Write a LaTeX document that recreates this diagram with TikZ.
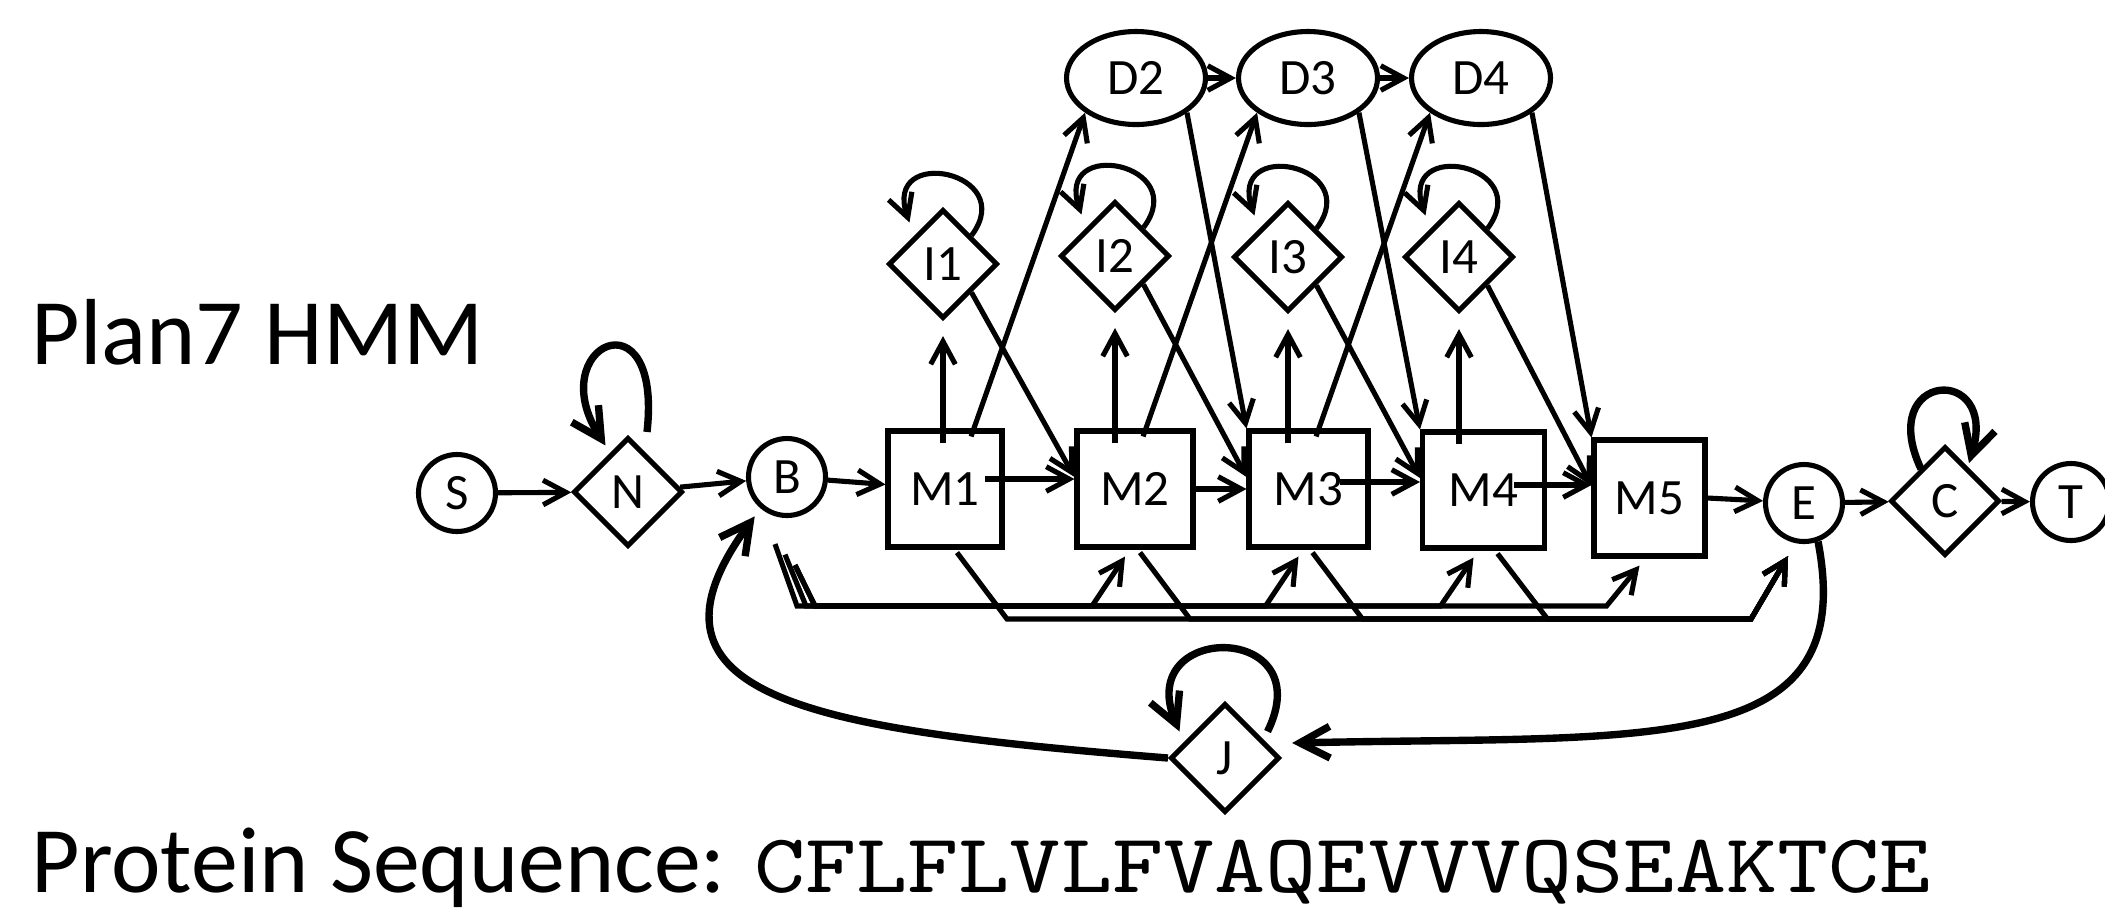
\documentclass[tikz,border=0pt]{standalone}
\usepackage{fontspec}
\setmainfont{Carlito}
\newfontfamily\seqfont{lmmono10-regular.otf}[FakeStretch=1.16]
\usetikzlibrary{
  arrows.meta,
  shapes.geometric,
  calc
}
\newcommand{\lblfont}{\fontsize{14.5pt}{17pt}\selectfont}
\newcommand{\bigfont}{\fontsize{26.7pt}{32pt}\selectfont}

\begin{document}
\begin{tikzpicture}[
  circ/.style={circle, draw, line width=1.45pt, minimum size=0.77cm, inner sep=0pt, font=\lblfont},
  dia/.style={diamond, draw, line width=1.45pt, minimum width=1.09cm, minimum height=1.09cm,
              inner sep=0pt, font=\lblfont},
  mbox/.style={rectangle, draw, line width=1.45pt, minimum width=#1, minimum height=1.16cm,
               inner sep=0pt, font=\lblfont},
  dell/.style={ellipse, draw, line width=1.45pt, minimum width=1.39cm, minimum height=0.93cm,
               inner sep=0pt, font=\lblfont},
  arr/.style={-{Straight Barb[length=6.5pt,width=7pt]}, line width=1.45pt},
  bigarr/.style={-{Straight Barb[length=8.5pt,width=9pt]}, line width=2.1pt},
  caption/.style={anchor=base west, inner sep=0pt, font=\bigfont}
]
  \useasboundingbox (0,0) rectangle (21.05,-9.11);

  \node[caption] (title) at (0.31,-3.64) {Plan7 HMM};
  \node[caption] (seq)   at (0.31,-8.92)
    {Protein Sequence: {\seqfont\fontsize{23.9pt}{28pt}\selectfont CFLFLVLFVAQEVVVQSEAKTCE}};

  % special states
  \node[circ] (S) at (4.57,-4.93) {S};
  \node[dia]  (N) at (6.28,-4.92) {N};
  \node[circ] (B) at (7.87,-4.77) {B};
  \node[circ] (E) at (18.04,-5.03) {E};
  \node[dia]  (C) at (19.45,-5.01) {C};
  \node[circ] (T) at (20.71,-5.02) {T};
  \node[dia]  (J) at (12.25,-7.58) {J};

  % match, insert, delete states
  \node[mbox=1.14cm] (M1) at (9.45,-4.89)   {M1};
  \node[mbox=1.16cm] (M2) at (11.35,-4.89)  {M2};
  \node[mbox=1.19cm] (M3) at (13.085,-4.89) {M3};
  \node[mbox=1.22cm] (M4) at (14.835,-4.90) {M4};
  \node[mbox=1.11cm] (M5) at (16.495,-4.98) {M5};

  \node[dia] (I1) at (9.43,-2.64)  {I1};
  \node[dia] (I2) at (11.15,-2.56) {I2};
  \node[dia] (I3) at (12.88,-2.57) {I3};
  \node[dia] (I4) at (14.59,-2.57) {I4};

  \node[dell] (D2) at (11.36,-0.78) {D2};
  \node[dell] (D3) at (13.08,-0.78) {D3};
  \node[dell] (D4) at (14.81,-0.78) {D4};

  % main line
  \draw[arr] (S) -- (N);
  \draw[arr] (N) -- (B);
  \draw[arr] (B) -- (M1);
  \foreach \a/\b/\s/\dy in {M1/M2/0.2/0.1, M2/M3/0/0, M3/M4/0.31/0.07, M4/M5/0.33/0.05}{
    \draw[arr] ($(\a.east)+(-\s,\dy)$) -- ($(\a.east -| \b.west)+(0,\dy)$);
  }
  \draw[arr] (M5.east) -- (E);
  \draw[arr] (E) -- (C);
  \draw[arr] (C) -- (T);

  % inserts
  \foreach \k/\m in {1/2,2/3,3/4,4/5}{
    \draw[arr, shorten <=-0.15cm, shorten >=0.15cm] (I\k.south |- M\k.north) -- (I\k.south);
    \draw[arr] (I\k.north east) .. controls +(0.48,0.64) and +(-0.27,0.78) .. ($(I\k.north west)+(-0.05,0.13)$);
    \draw[arr] (I\k.south east) -- ($(M\m.west)+(0,0.12)$);
  }

  % deletes
  \foreach \k/\d in {1/2,2/3,3/4}{
    \draw[arr] ($(D\d.south west |- M\k.north)+(-1.14,-0.08)$) -- (D\d.south west);
  }
  \foreach \d/\m in {2/3,3/4,4/5}{
    \draw[arr] (D\d.south east) -- (M\m.north west);
  }
  \draw[arr] (D2) -- (D3);
  \draw[arr] (D3) -- (D4);

  % begin -> match, match -> end
  \coordinate (btrunk) at (7.97,-6.06);
  \coordinate (etrunk) at (17.51,-6.19);
  \foreach \m/\s in {2/0,3/1,4/2,5/2}{
    \draw[arr] ($(B.south)+(-0.12+0.1*\s,-0.26-0.105*\s)$) -- ($(btrunk)+(0.09*\s,0)$)
      -- ($(M\m.south |- btrunk)+(-0.43,0)$) -- ($(M\m.south)+(-0.1,-0.07)$);
  }
  \foreach \m/\dx in {1/0.12,2/0.05,3/0.04,4/0.14}{
    \draw[arr] ($(M\m.south)+(\dx,-0.03)$) -- ($(M\m.south |- etrunk)+(\dx+0.5,0)$)
      -- (etrunk) -- ($(E.south)+(-0.16,-0.12)$);
  }

  % flanking loops
  \draw[bigarr] ($(N.north)+(0.19,0.03)$) .. controls +(0.16,1.43) and +(-0.64,1.0) .. ($(N.north west)+(0.06,0.18)$);
  \draw[bigarr] ($(C.center)+(-0.24,0.32)$) .. controls +(-0.46,0.98) and +(0.3,1.0) .. ($(C.center)+(0.24,0.38)$);
  \draw[bigarr] ($(J.north east)+(0.14,-0.02)$) .. controls +(0.54,1.10) and +(-0.46,1.10) .. ($(J.north west)+(-0.17,-0.02)$);
  \draw[bigarr] (E.-70) .. controls (18.6,-7.6) and (16.5,-7.35) .. ($(J.east)+(0.1,0.15)$);
  \draw[bigarr] (J.west) .. controls (8.2,-7.3) and (6.2,-7.0) .. ($(B.232)+(-0.07,-0.07)$);
\end{tikzpicture}
\end{document}
